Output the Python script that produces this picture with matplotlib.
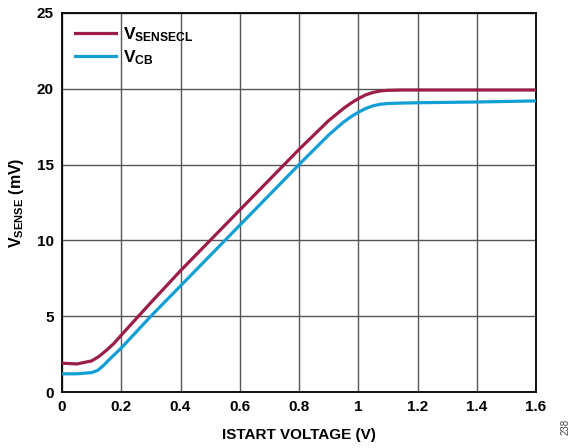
import matplotlib
matplotlib.use("Agg")
import matplotlib.pyplot as plt

plt.rcParams['font.family'] = ['Liberation Sans', 'DejaVu Sans']
plt.rcParams['font.weight'] = 'bold'
plt.rcParams['mathtext.fontset'] = 'custom'
plt.rcParams['mathtext.rm'] = 'Liberation Sans:bold'
plt.rcParams['mathtext.bf'] = 'Liberation Sans:bold'
plt.rcParams['mathtext.it'] = 'Liberation Sans:bold'

# data
x_sensecl = [0, 0.05, 0.1, 0.125, 0.15, 0.175, 0.2, 0.3, 0.4, 0.5, 0.6, 0.7, 0.8, 0.9, 0.95,
             0.975, 1.0, 1.025, 1.05, 1.075, 1.1, 1.15, 1.2, 1.4, 1.6]
v_sensecl = [1.9, 1.85, 2.05, 2.35, 2.75, 3.2, 3.75, 5.9, 8.0, 10.0, 12.0, 14.0, 16.0, 17.9, 18.7,
             19.05, 19.35, 19.6, 19.76, 19.86, 19.9, 19.92, 19.92, 19.92, 19.92]

x_cb = [0, 0.05, 0.1, 0.12, 0.14, 0.16, 0.2, 0.3, 0.4, 0.5, 0.6, 0.7, 0.8, 0.9, 0.95,
        0.975, 1.0, 1.025, 1.05, 1.075, 1.1, 1.15, 1.2, 1.4, 1.6]
v_cb = [1.2, 1.2, 1.28, 1.42, 1.75, 2.15, 2.9, 5.0, 7.0, 9.0, 11.0, 13.0, 15.0, 16.95, 17.8,
        18.15, 18.45, 18.7, 18.88, 18.98, 19.03, 19.06, 19.08, 19.13, 19.2]

x_ticks = [0, 0.2, 0.4, 0.6, 0.8, 1, 1.2, 1.4, 1.6]
x_labels = ['0', '0.2', '0.4', '0.6', '0.8', '1', '1.2', '1.4', '1.6']
y_ticks = [0, 5, 10, 15, 20, 25]

fig = plt.figure(figsize=(5.74, 4.48), dpi=100)
ax = fig.add_axes([62 / 574, 56 / 448, 474 / 574, 379 / 448])

ax.plot(x_sensecl, v_sensecl, color='#9c1d4a', lw=2.3, label=r'V$_{SENSECL}$', zorder=3)
ax.plot(x_cb, v_cb, color='#119fd6', lw=2.3, label=r'V$_{CB}$', zorder=3)

ax.set_xlim(0, 1.6)
ax.set_ylim(0, 25)
ax.set_xticks(x_ticks)
ax.set_xticklabels(x_labels)
ax.set_yticks(y_ticks)
ax.grid(True, color='#555555', lw=1.0)
ax.tick_params(length=0, labelsize=11, pad=6)
for s in ax.spines.values():
    s.set_linewidth(1.3)

ax.set_xlabel('ISTART VOLTAGE (V)', fontsize=11, fontweight='bold', labelpad=10)
ax.set_ylabel(r'V$_{SENSE}$ (mV)', fontsize=11.5, fontweight='bold', labelpad=8)

leg = ax.legend(loc='upper left', frameon=False, fontsize=12.5, handlelength=2.4,
                borderaxespad=0.2, labelspacing=0.25, handletextpad=0.4,
                bbox_to_anchor=(0.005, 0.995))
for t in leg.get_texts():
    t.set_fontweight('bold')

fig.text(0.985, 0.03, '238', rotation=90, fontsize=7, fontweight='normal',
         color='#444444', ha='center', va='bottom')

fig.savefig('out.png', dpi=100)
